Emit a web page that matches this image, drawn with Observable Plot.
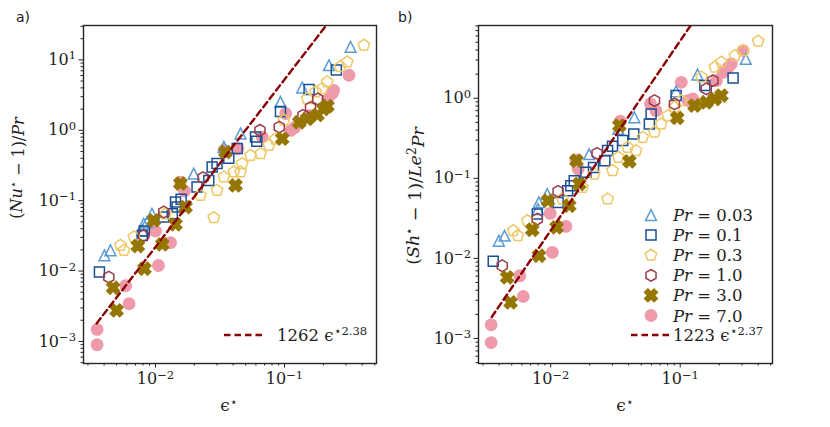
<!DOCTYPE html>
<html><head><meta charset="utf-8">
<script src="https://cdn.jsdelivr.net/npm/d3@7"></script>
<script src="https://cdn.jsdelivr.net/npm/@observablehq/plot@0.6"></script>
<style>
body{margin:0;background:#fff;}
#wrap{position:relative;width:830px;height:427px;background:#fff;}
#wrap svg{position:absolute;top:0;}
</style></head><body><div id="wrap"></div>
<script>
// ---------- data (x = eps*, y = value) ----------
const legendLabels = ["0.03", "0.1", "0.3", "1.0", "3.0", "7.0"];

const pr003_nu = [[0.00403,0.0167],[0.00448,0.0197],[0.00788,0.0379],[0.0081,0.047],[0.0086,0.0497],[0.0094,0.065],[0.0198,0.242],[0.0339,0.58],[0.0456,0.90],[0.093,2.53],[0.137,4.04],[0.221,8.4],[0.325,15.3]];
const pr01_nu = [[0.00368,0.0097],[0.0079,0.032],[0.0082,0.037],[0.0116,0.0586],[0.0135,0.065],[0.0147,0.081],[0.0143,0.096],[0.0158,0.105],[0.021,0.156],[0.0259,0.194],[0.0275,0.30],[0.030,0.336],[0.037,0.40],[0.043,0.55],[0.0596,0.80],[0.061,0.70],[0.093,1.85],[0.155,3.8],[0.252,7.2]];
const pr03_nu = [[0.00536,0.0232],[0.0057,0.0196],[0.0068,0.0305],[0.012,0.065],[0.0223,0.119],[0.0283,0.0573],[0.030,0.14],[0.0339,0.217],[0.0405,0.256],[0.0456,0.256],[0.047,0.336],[0.0545,0.44],[0.0652,0.466],[0.0757,0.612],[0.085,0.75],[0.0989,1.39],[0.15,2.82],[0.174,3.51],[0.196,3.91],[0.214,4.86],[0.27,8.0],[0.306,9.37],[0.412,16.2]];
const pr1_nu = [[0.00435,0.0082],[0.0081,0.032],[0.0116,0.069],[0.0234,0.212],[0.0645,1.0],[0.091,1.11],[0.139,1.63],[0.159,2.1],[0.181,2.78]];
const pr3_nu = [[0.0047,0.0058],[0.005,0.00276],[0.0073,0.0227],[0.00822,0.0108],[0.0097,0.0525],[0.0113,0.0239],[0.0143,0.046],[0.0156,0.175],[0.0171,0.081],[0.0349,0.49],[0.0417,0.165],[0.096,0.76],[0.13,1.3],[0.15,1.45],[0.18,1.65],[0.2,2.0],[0.215,2.2]];
const pr7_nu = [[0.00353,0.00148],[0.00353,0.000897],[0.00588,0.00618],[0.00625,0.00343],[0.01,0.037],[0.01055,0.012],[0.0131,0.0253],[0.0156,0.184],[0.0168,0.137],[0.0339,0.52],[0.0435,0.55],[0.0671,0.80],[0.102,1.73],[0.112,1.0],[0.12,1.1],[0.155,1.63],[0.214,2.67],[0.234,3.32],[0.24,3.7],[0.316,6.05]];

const pr003_sh = [[0.00398,0.0166],[0.0044,0.0192],[0.00797,0.0414],[0.0081,0.05],[0.0094,0.0637],[0.0198,0.20],[0.0333,0.414],[0.0442,0.579],[0.093,1.22],[0.136,1.98],[0.321,3.1]];
const pr01_sh = [[0.0036,0.0092],[0.00788,0.0358],[0.0114,0.05],[0.0135,0.0701],[0.0143,0.081],[0.0152,0.0935],[0.0187,0.119],[0.0214,0.137],[0.0262,0.166],[0.0275,0.222],[0.030,0.251],[0.036,0.296],[0.0438,0.358],[0.0578,0.478],[0.0596,0.637],[0.093,1.08],[0.155,1.44],[0.256,1.79]];
const pr03_sh = [[0.00514,0.0222],[0.00558,0.0192],[0.0066,0.0296],[0.0123,0.0552],[0.0176,0.077],[0.0217,0.113],[0.0275,0.0552],[0.030,0.125],[0.0333,0.183],[0.0393,0.244],[0.0456,0.222],[0.0514,0.325],[0.0633,0.376],[0.0713,0.478],[0.0802,0.607],[0.0903,0.772],[0.102,0.935],[0.146,1.83],[0.185,2.44],[0.208,2.82],[0.264,3.41],[0.306,3.94],[0.40,5.16]];
const pr1_sh = [[0.00422,0.0081],[0.00788,0.031],[0.0114,0.0688],[0.0228,0.205],[0.0633,0.935],[0.0903,0.85],[0.159,1.31],[0.179,1.66]];
const pr3_sh = [[0.00461,0.00579],[0.0049,0.00282],[0.00721,0.0228],[0.00812,0.0108],[0.00953,0.0526],[0.0111,0.0244],[0.0139,0.0455],[0.0158,0.166],[0.0166,0.085],[0.0339,0.455],[0.0405,0.163],[0.0948,0.568],[0.129,0.81],[0.159,0.89],[0.185,0.98],[0.208,1.08]];
const pr7_sh = [[0.00347,0.00148],[0.00347,0.00089],[0.00578,0.00607],[0.00614,0.00335],[0.0099,0.0365],[0.0103,0.0119],[0.0131,0.0251],[0.0156,0.170],[0.0163,0.131],[0.0344,0.516],[0.0589,0.85],[0.065,0.70],[0.102,1.58],[0.115,0.935],[0.125,0.98],[0.19,1.66],[0.214,2.1],[0.234,2.4],[0.248,2.69],[0.306,3.94]];

// power-law fits from the legends
const fitNu = {coef: 1262, exp: 2.38, label: "2.38", coefLabel: "1262"};
const fitSh = {coef: 1223, exp: 2.37, label: "2.37", coefLabel: "1223"};
const fitRangeX = [0.0035, 0.6];

// axis ticks
const xMajor = [1e-2, 1e-1];
const xMinor = [3e-3,4e-3,5e-3,6e-3,7e-3,8e-3,9e-3,2e-2,3e-2,4e-2,5e-2,6e-2,7e-2,8e-2,9e-2,2e-1,3e-1,4e-1,5e-1];
const yMajorNu = [1e-3, 1e-2, 1e-1, 1, 10];
const yMajorSh = [1e-3, 1e-2, 1e-1, 1];
const xDomain = [0.00277, 0.516];
const yDomainNu = [4.86e-4, 30.8];
const yDomainSh = [4.87e-4, 8.1];

// ---------- symbols ----------
const R = s => Math.sqrt(s / Math.PI);
function poly(c, r, n, rot) {
  for (let i = 0; i < n; i++) {
    const a = rot + i * 2 * Math.PI / n;
    const x = r * Math.cos(a), y = r * Math.sin(a);
    i ? c.lineTo(x, y) : c.moveTo(x, y);
  }
  c.closePath();
}
const symTri = {draw(c, s){ const r = R(s); c.moveTo(0,-r); c.lineTo(r, r); c.lineTo(-r, r); c.closePath(); }};
const symSq = {draw(c, s){ const r = R(s); c.moveTo(-r,-r); c.lineTo(r,-r); c.lineTo(r,r); c.lineTo(-r,r); c.closePath(); }};
const symPent = {draw(c, s){ poly(c, R(s), 5, -Math.PI/2); }};
const symHex = {draw(c, s){ poly(c, R(s), 6, -Math.PI/2); }};
const symX = {draw(c, s){
  const r = R(s), w = r * 0.42;
  const pts = [[-w,-r],[w,-r],[w,-w],[r,-w],[r,w],[w,w],[w,r],[-w,r],[-w,w],[-r,w],[-r,-w],[-w,-w]];
  const ca = Math.SQRT1_2;
  pts.forEach((p, i) => { const x = (p[0]-p[1])*ca, y = (p[0]+p[1])*ca; i ? c.lineTo(x,y) : c.moveTo(x,y); });
  c.closePath();
}};
const symCirc = {draw(c, s){ const r = R(s); c.moveTo(r,0); c.arc(0,0,r,0,2*Math.PI); c.closePath(); }};

const styles = [
  {sym: symTri,  color: "#5b9bd5", fill: false, r: 5.4},
  {sym: symSq,   color: "#1a4f94", fill: false, r: 5.0},
  {sym: symPent, color: "#eec864", fill: false, r: 6.0},
  {sym: symHex,  color: "#9c3a4c", fill: false, r: 5.8},
  {sym: symX,    color: "#947600", fill: true,  r: 7.4},
  {sym: symCirc, color: "#ef9aaa", fill: true,  r: 6.4}
];
const drawOrder = [5, 0, 1, 2, 3, 4];

function fmtPow(d) { return "10^" + Math.round(Math.log10(d)); }

function makePanel(seriesList, fit, yDomain, yMajor, ml, mr) {
  const yMinor = [];
  for (let e = -4; e <= 1; e++) for (let k = 2; k <= 9; k++) {
    const v = k * Math.pow(10, e);
    if (v >= yDomain[0] && v <= yDomain[1]) yMinor.push(v);
  }
  const marks = [];
  drawOrder.forEach(i => {
    const st = styles[i];
    marks.push(Plot.dot(seriesList[i], {
      x: d => d[0], y: d => d[1], symbol: st.sym, r: st.r,
      fill: st.fill ? st.color : "none", stroke: st.fill ? "none" : st.color,
      strokeWidth: 1.5
    }));
  });
  marks.push(Plot.line(fitRangeX, {
    x: d => d, y: d => fit.coef * Math.pow(d, fit.exp),
    stroke: "#8b0000", strokeWidth: 2.4, strokeDasharray: "6.5,4", clip: true
  }));
  marks.push(Plot.frame({stroke: "#262626", strokeWidth: 1.4}));
  marks.push(Plot.axisX({ticks: xMinor, tickSize: 2.5, tickFormat: () => "", label: null}));
  marks.push(Plot.axisX({ticks: xMajor, tickSize: 4.5, tickPadding: 5, tickFormat: fmtPow, label: null, fontSize: 16}));
  marks.push(Plot.axisY({ticks: yMinor, tickSize: 2.5, tickFormat: () => "", label: null}));
  marks.push(Plot.axisY({ticks: yMajor, tickSize: 4.5, tickPadding: 3, tickFormat: fmtPow, label: null, fontSize: 16}));
  return Plot.plot({
    width: 415, height: 427,
    marginLeft: ml, marginRight: mr, marginTop: 25, marginBottom: 64,
    x: {type: "log", domain: xDomain},
    y: {type: "log", domain: yDomain},
    style: {fontFamily: "DejaVu Serif", fontSize: "16px", background: "transparent", overflow: "visible", color: "#222"},
    marks
  });
}

function fixTicks(svg) {
  d3.select(svg).selectAll("text").each(function() {
    const m = /^10\^(-?\d+)$/.exec(this.textContent);
    if (m) {
      const el = d3.select(this);
      el.text("10").style("font-size", "16px").style("font-family", "DejaVu Serif");
      el.append("tspan").attr("dy", "-0.48em").attr("font-size", "0.72em").text(m[1].replace("-", "\u2212"));
    }
  });
}

function addText(svg, x, y, parts, opts = {}) {
  const t = d3.select(svg).append("text").attr("x", x).attr("y", y)
    .attr("font-family", opts.family || "DejaVu Serif").attr("font-size", opts.size || 16)
    .attr("fill", "#222").attr("text-anchor", opts.anchor || "start");
  if (opts.rotate) t.attr("transform", `rotate(-90 ${x} ${y})`);
  parts.forEach(p => {
    const s = t.append("tspan").text(p.t);
    if (p.i) s.attr("font-style", "italic");
    if (p.dy) s.attr("dy", p.dy);
    if (p.fs) s.attr("font-size", p.fs);
  });
  return t;
}

const wrap = document.getElementById("wrap");
const nuSeries = [pr003_nu, pr01_nu, pr03_nu, pr1_nu, pr3_nu, pr7_nu];
const shSeries = [pr003_sh, pr01_sh, pr03_sh, pr1_sh, pr3_sh, pr7_sh];

const left = makePanel(nuSeries, fitNu, yDomainNu, yMajorNu, 83, 39);
left.style.left = "0px";
wrap.appendChild(left);
const right = makePanel(shSeries, fitSh, yDomainSh, yMajorSh, 63, 58);
right.style.left = "415px";
wrap.appendChild(right);
fixTicks(left); fixTicks(right);

// panel letters
addText(left, 16, 22, [{t: "a)"}], {family: "DejaVu Sans", size: 14});
addText(right, -17, 22, [{t: "b)"}], {family: "DejaVu Sans", size: 14});

// x labels
const epsParts = [{t: "\u03f5", i: false}, {t: "\u22c6", dy: "-0.45em", fs: "0.7em"}];
addText(left, 229, 411, epsParts, {anchor: "middle", size: 17});
addText(right, 210, 411, epsParts, {anchor: "middle", size: 17});

// y labels
addText(left, 22, 168, [{t: "("}, {t: "Nu", i: true}, {t: "\u22c6", dy: "-0.45em", fs: "0.7em"}, {t: " \u2212 1)/", dy: "0.45em"}, {t: "Pr", i: true}], {anchor: "middle", rotate: true, size: 16});
addText(right, 4, 196, [{t: "("}, {t: "Sh", i: true}, {t: "\u22c6", dy: "-0.45em", fs: "0.7em"}, {t: " \u2212 1)/", dy: "0.45em"}, {t: "Le", i: true}, {t: "2", dy: "-0.45em", fs: "0.7em"}, {t: "Pr", i: true, dy: "0.45em"}], {anchor: "middle", rotate: true, size: 17.5});

// fit legends
function fitLegend(svg, x0, x1, y, tx, fit) {
  d3.select(svg).append("line").attr("x1", x0).attr("x2", x1).attr("y1", y).attr("y2", y)
    .attr("stroke", "#8b0000").attr("stroke-width", 2.4).attr("stroke-dasharray", "6.5,4");
  addText(svg, tx, y + 6, [{t: fit.coefLabel + " "}, {t: "\u03f5"}, {t: "\u22c6" + fit.label, dy: "-0.5em", fs: "0.7em"}], {size: 16.5});
}
fitLegend(left, 224, 262, 335, 277, fitNu);

// right legend
const lg = d3.select(right);
styles.forEach((st, i) => {
  const y = 215 + i * 20.1;
  const p = d3.path(); st.sym.draw(p, st.r * st.r * Math.PI);
  lg.append("path").attr("d", p.toString()).attr("transform", `translate(236,${y})`)
    .attr("fill", st.fill ? st.color : "none").attr("stroke", st.fill ? "none" : st.color).attr("stroke-width", 1.5);
  addText(right, 258, y + 6, [{t: "Pr", i: true}, {t: " = " + legendLabels[i]}], {size: 16.5});
});
fitLegend(right, 216, 254, 335, 258, fitSh);
</script></body></html>
